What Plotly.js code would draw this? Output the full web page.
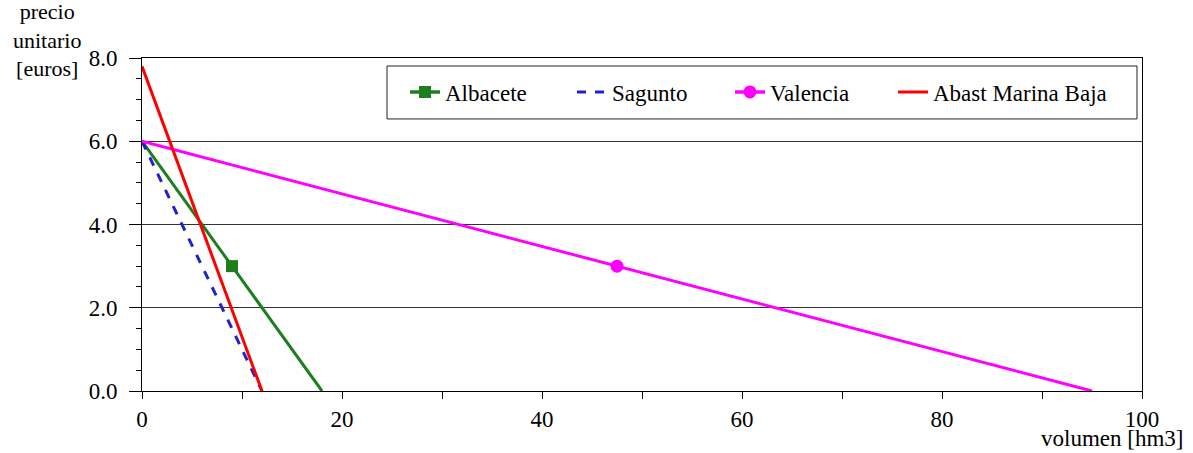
<!DOCTYPE html>
<html>
<head>
<meta charset="utf-8">
<script src="https://cdn.plot.ly/plotly-3.0.1.min.js"></script>
<style>body{margin:0;padding:0;background:#fff}#chart{width:1193px;height:453px}</style>
</head>
<body>
<div id="chart"></div>
<script>
// Data
const albaceteX = [0, 9, 18];
const albaceteY = [6, 3, 0];
const saguntoX = [0, 12];
const saguntoY = [6, 0];
const valenciaX = [0, 47.5, 95];
const valenciaY = [6, 3, 0];
const marinaX = [0, 12];
const marinaY = [7.8, 0];
const seriesNames = ['Albacete', 'Sagunto', 'Valencia', 'Abast Marina Baja'];
const xTitle = 'volumen [hm3]';
const yTitleLines = ['precio', 'unitario', '[euros]'];

const FONT = 'Liberation Serif';
const FS = 23;
const cGreen = '#1E7D1E', cBlue = '#2222CC', cMag = '#FF00FF', cRed = '#FF0000';

const traces = [
  {x: albaceteX, y: albaceteY, mode: 'lines', line: {color: cGreen, width: 3}, showlegend: false, hoverinfo: 'skip'},
  {x: [albaceteX[1]], y: [albaceteY[1]], mode: 'lines+markers', name: seriesNames[0], legend: 'legend',
   line: {color: cGreen, width: 3.5}, marker: {symbol: 'square', size: 12, color: cGreen}},
  {x: saguntoX, y: saguntoY, mode: 'lines', name: seriesNames[1], legend: 'legend2', line: {color: cBlue, width: 3, dash: 'dash'}},
  {x: valenciaX, y: valenciaY, mode: 'lines', line: {color: cMag, width: 3}, showlegend: false, hoverinfo: 'skip'},
  {x: [valenciaX[1]], y: [valenciaY[1]], mode: 'lines+markers', name: seriesNames[2], legend: 'legend3',
   line: {color: cMag, width: 3.5}, marker: {symbol: 'circle', size: 13, color: cMag}},
  {x: marinaX, y: marinaY, mode: 'lines', name: seriesNames[3], legend: 'legend4', line: {color: cRed, width: 3}}
];

function leg(x) {
  return {
    orientation: 'h', x: x, y: 0.898, xanchor: 'left', yanchor: 'middle',
    borderwidth: 0, bgcolor: 'rgba(0,0,0,0)',
    font: {family: FONT, size: FS, color: '#000'}
  };
}

const layout = {
  width: 1193, height: 453,
  margin: {l: 142, r: 51, t: 58, b: 62, pad: 0},
  paper_bgcolor: '#fff', plot_bgcolor: '#fff',
  font: {family: FONT, size: FS, color: '#000'},
  showlegend: true,
  legend: leg(0.263), legend2: leg(0.430), legend3: leg(0.588), legend4: leg(0.751),
  shapes: [
    {type: 'rect', xref: 'paper', yref: 'paper', x0: 0.245, x1: 0.995, y0: 0.817, y1: 0.976,
     line: {color: '#222', width: 1}, fillcolor: '#fff', layer: 'above'}
  ],
  xaxis: {
    range: [0, 100], dtick: 20, tick0: 0,
    showgrid: false, zeroline: false,
    showline: true, linecolor: '#000', linewidth: 1, mirror: true,
    ticks: 'outside', ticklen: 7, tickcolor: '#000',
    minor: {dtick: 10, ticks: 'outside', ticklen: 7, tickcolor: '#000', showgrid: false},
    tickfont: {family: FONT, size: FS}
  },
  yaxis: {
    range: [0, 8], dtick: 2, tick0: 0, tickformat: '.1f',
    showgrid: true, gridcolor: '#333', gridwidth: 1, zeroline: false,
    showline: true, linecolor: '#000', linewidth: 1, mirror: true,
    ticks: 'outside', ticklen: 12, tickcolor: '#000', ticklabelstandoff: 7,
    minor: {dtick: 0.5, ticks: 'outside', ticklen: 5, tickcolor: '#000', showgrid: false},
    tickfont: {family: FONT, size: FS}
  },
  annotations: [
    {text: yTitleLines.join('<br>'), xref: 'paper', yref: 'paper', x: -0.095, y: 1.054,
     xanchor: 'center', yanchor: 'middle', showarrow: false, align: 'center', font: {family: FONT, size: 22}},
    {text: xTitle, xref: 'paper', yref: 'paper', x: 1.043, y: -0.143, xanchor: 'right', yanchor: 'middle',
     showarrow: false, font: {family: FONT, size: FS}}
  ]
};

Plotly.newPlot('chart', traces, layout, {displayModeBar: false, staticPlot: true});
</script>
</body>
</html>
